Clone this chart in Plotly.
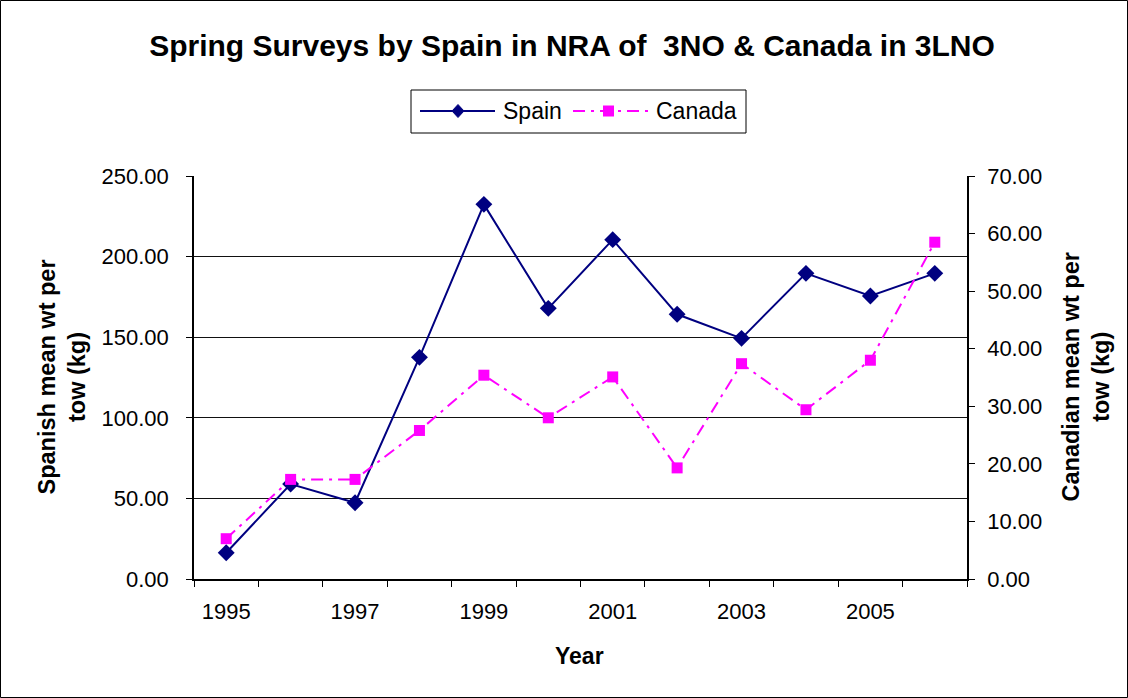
import plotly.graph_objects as go

# Survey years and mean weight per tow (kg)
years = [1995, 1996, 1997, 1998, 1999, 2000, 2001, 2002, 2003, 2004, 2005, 2006]
spain = [16.3, 58.9, 47.3, 137.5, 232.4, 167.9, 210.5, 164.2, 149.3, 189.6, 175.6, 189.6]
canada = [7.0, 17.3, 17.3, 25.8, 35.4, 28.0, 35.1, 19.3, 37.4, 29.4, 38.0, 58.5]

year_labels = [1995, 1997, 1999, 2001, 2003, 2005]
left_ticks = [0, 50, 100, 150, 200, 250]
right_ticks = [0, 10, 20, 30, 40, 50, 60, 70]

W, H = 1128, 698
ML, MR, MT, MB = 194, 161, 176, 119
PW, PH = W - ML - MR, H - MT - MB

SPAIN_COLOR = "#000080"
CANADA_COLOR = "#FF00FF"
CANADA_DASH = "12px,6px,3px,6px"


def px_x(p):
    return (p - ML) / PW


def px_y(p):
    return (H - MB - p) / PH


FONT = "Liberation Sans, Arial, sans-serif"

fig = go.Figure()
fig.add_trace(go.Scatter(
    x=years, y=spain, name="Spain", mode="lines+markers",
    line=dict(color=SPAIN_COLOR, width=2),
    marker=dict(symbol="diamond", size=13, color=SPAIN_COLOR),
    yaxis="y",
))
fig.add_trace(go.Scatter(
    x=years, y=canada, name="Canada", mode="lines+markers",
    line=dict(color=CANADA_COLOR, width=2, dash=CANADA_DASH),
    marker=dict(symbol="square", size=11, color=CANADA_COLOR),
    yaxis="y2",
))

# Boxed key above the plot: long line samples with a marker in the middle
key_y = 111
shapes = [
    dict(type="rect", xref="paper", yref="paper",
         x0=px_x(0.5), x1=px_x(W - 0.5), y0=px_y(H - 0.5), y1=px_y(0.5),
         line=dict(color="black", width=1)),
    dict(type="rect", xref="paper", yref="paper",
         x0=px_x(411), x1=px_x(746), y0=px_y(133), y1=px_y(90),
         line=dict(color="black", width=1), fillcolor="white"),
    dict(type="line", xref="paper", yref="paper",
         x0=px_x(420), x1=px_x(495), y0=px_y(key_y), y1=px_y(key_y),
         line=dict(color=SPAIN_COLOR, width=2)),
    dict(type="path", xref="paper", yref="paper",
         path="M {0},{1} L {2},{3} L {4},{1} L {2},{5} Z".format(
             px_x(452), px_y(key_y), px_x(458), px_y(key_y - 6.5), px_x(464), px_y(key_y + 6.5)),
         fillcolor=SPAIN_COLOR, line=dict(color=SPAIN_COLOR, width=1)),
    dict(type="line", xref="paper", yref="paper",
         x0=px_x(573), x1=px_x(648), y0=px_y(key_y), y1=px_y(key_y),
         line=dict(color=CANADA_COLOR, width=2, dash=CANADA_DASH)),
    dict(type="rect", xref="paper", yref="paper",
         x0=px_x(603), x1=px_x(614), y0=px_y(key_y + 5.5), y1=px_y(key_y - 5.5),
         fillcolor=CANADA_COLOR, line=dict(color=CANADA_COLOR, width=0)),
]

annotations = [
    dict(text="<b>Spanish mean wt per<br>tow (kg)</b>", textangle=-90,
         x=px_x(62), y=0.5, xref="paper", yref="paper",
         xanchor="center", yanchor="middle", showarrow=False,
         font=dict(size=23.5, family=FONT)),
    dict(text="<b>Canadian mean wt per<br>tow (kg)</b>", textangle=-90,
         x=px_x(1086), y=0.5, xref="paper", yref="paper",
         xanchor="center", yanchor="middle", showarrow=False,
         font=dict(size=23.5, family=FONT)),
    dict(text="<b>Year</b>", x=px_x(579), y=px_y(656), xref="paper", yref="paper",
         xanchor="center", yanchor="middle", showarrow=False,
         font=dict(size=23, family=FONT)),
    dict(text="Spain", x=px_x(501), y=px_y(key_y), xref="paper", yref="paper",
         xanchor="left", yanchor="middle", showarrow=False,
         font=dict(size=23, family=FONT)),
    dict(text="Canada", x=px_x(654), y=px_y(key_y), xref="paper", yref="paper",
         xanchor="left", yanchor="middle", showarrow=False,
         font=dict(size=23, family=FONT)),
]

fig.update_layout(
    width=W, height=H,
    margin=dict(l=ML, r=MR, t=MT, b=MB),
    paper_bgcolor="white", plot_bgcolor="white",
    font=dict(family=FONT, size=22, color="black"),
    title=dict(
        text="<b>Spring Surveys by Spain in NRA of  3NO &amp; Canada in 3LNO</b>",
        x=572 / W, xanchor="center", y=1 - 45 / H, yanchor="middle",
        font=dict(size=30, family=FONT),
    ),
    showlegend=False,
    xaxis=dict(
        range=[1994.5, 2006.5], tickmode="array", tickvals=year_labels,
        ticks="outside", ticklen=0, ticklabelstandoff=12,
        showline=True, linecolor="black", linewidth=1.5, showgrid=False, zeroline=False,
        minor=dict(tickmode="linear", tick0=1994.5, dtick=1, ticks="outside",
                   ticklen=6, tickcolor="black", showgrid=False),
    ),
    yaxis=dict(
        range=[0, 250], tickmode="array", tickvals=left_ticks,
        tickformat=".2f", ticks="outside", ticklen=6, tickcolor="black",
        ticklabelstandoff=13,
        showline=True, linecolor="black", linewidth=1.5,
        showgrid=True, gridcolor="#111111", gridwidth=1, zeroline=False,
    ),
    yaxis2=dict(
        range=[0, 70], tickmode="array", tickvals=right_ticks,
        tickformat=".2f", ticks="outside", ticklen=6, tickcolor="black",
        ticklabelstandoff=8,
        overlaying="y", side="right",
        showline=True, linecolor="black", linewidth=1.5, showgrid=False, zeroline=False,
    ),
    annotations=annotations,
    shapes=shapes,
)

fig.write_html("out.html")
